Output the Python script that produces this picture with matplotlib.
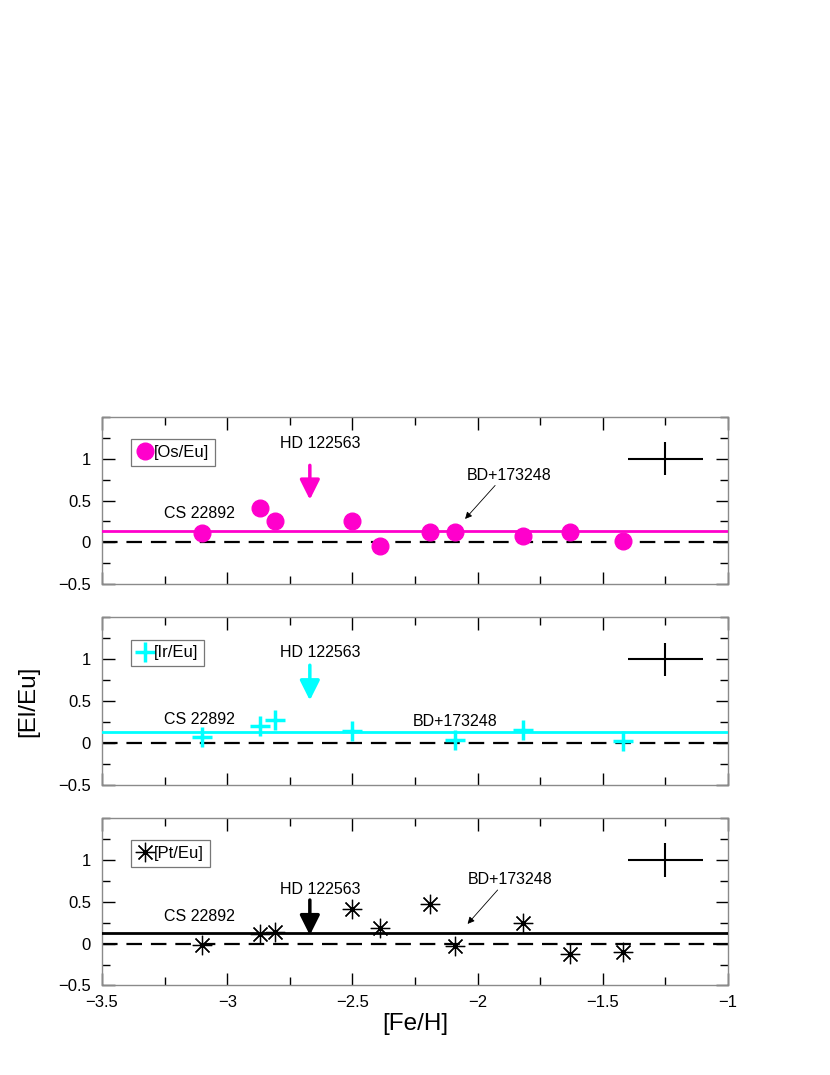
import matplotlib
matplotlib.use("Agg")
import matplotlib.pyplot as plt
from matplotlib.ticker import MultipleLocator

plt.rcParams["font.family"] = ["Liberation Sans", "DejaVu Sans"]

# [Fe/H] of the stars
feh_os = [-3.10, -2.87, -2.81, -2.50, -2.39, -2.19, -2.09, -1.82, -1.63, -1.42]
os_eu = [0.11, 0.41, 0.26, 0.26, -0.04, 0.12, 0.13, 0.08, 0.12, 0.02]

feh_ir = [-3.10, -2.87, -2.81, -2.50, -2.09, -1.82, -1.42]
ir_eu = [0.07, 0.21, 0.28, 0.15, 0.04, 0.16, 0.03]

feh_pt = [-3.10, -2.87, -2.81, -2.50, -2.39, -2.19, -2.09, -1.82, -1.63, -1.42]
pt_eu = [-0.02, 0.11, 0.14, 0.41, 0.19, 0.47, -0.03, 0.25, -0.12, -0.10]

mean_levels = [0.14, 0.13, 0.13]
labels = ["[Os/Eu]", "[Ir/Eu]", "[Pt/Eu]"]
colors = ["#ff00cc", "#00ffff", "black"]

# HD 122563 upper-limit arrows: (x, y_start, y_tip), text y
hd_arrows = [(-2.67, 0.92, 0.51), (-2.67, 0.93, 0.51), (-2.67, 0.52, 0.10)]
hd_text_y = [1.18, 1.08, 0.64]
cs_text_y = [0.34, 0.28, 0.32]
bd_text = [(-1.875, 0.80), (-2.09, 0.26), (-1.87, 0.76)]
bd_arrow = [((-1.93, 0.68), (-2.05, 0.28)), None, ((-1.92, 0.64), (-2.04, 0.235))]

# typical error bar
err_x, err_y, err_dx, err_dy = -1.25, 1.0, 0.15, 0.2

fig = plt.figure(figsize=(8.3, 10.75), dpi=100)
left, width, height = 0.1229, 0.7542, 0.1558
bottoms = [0.4565, 0.2698, 0.0833]

data = [(feh_os, os_eu), (feh_ir, ir_eu), (feh_pt, pt_eu)]
axes = []
for i, b in enumerate(bottoms):
    ax = fig.add_axes([left, b, width, height])
    axes.append(ax)
    x, y = data[i]
    c = colors[i]
    if i == 0:
        ax.plot(x, y, "o", color=c, markersize=12, label=labels[i], zorder=4)
    elif i == 1:
        ax.plot(x, y, "+", color=c, markersize=15, markeredgewidth=2.5,
                label=labels[i], zorder=4)
    else:
        ax.plot(x, y, marker=(8, 2, 0), linestyle="none", color=c,
                markersize=14, markeredgewidth=0.9, label=labels[i], zorder=4)
        ax.plot(x, y, "o", color=c, markersize=2.5, zorder=5)

    ax.axhline(mean_levels[i], color=c, lw=2, zorder=3)
    ax.axhline(0, color="black", lw=1.6, ls=(0, (7, 4)), zorder=2)

    ax.errorbar(err_x, err_y, xerr=err_dx, yerr=err_dy, fmt="none",
                ecolor="black", elinewidth=1.5, capsize=0)

    hx, hy0, hy1 = hd_arrows[i]
    ax.annotate("", xy=(hx, hy1), xytext=(hx, hy0),
                arrowprops=dict(arrowstyle="-|>,head_length=0.4,head_width=0.2",
                                color=c, lw=2.5, mutation_scale=30,
                                shrinkA=0, shrinkB=0))
    ax.text(-2.63, hd_text_y[i], "HD 122563", ha="center", va="center",
            fontsize=11.5)
    ax.text(-3.11, cs_text_y[i], "CS 22892", ha="center", va="center",
            fontsize=11.5)
    ax.text(bd_text[i][0], bd_text[i][1], "BD+173248", ha="center",
            va="center", fontsize=11.5)
    if bd_arrow[i] is not None:
        start, tip = bd_arrow[i]
        ax.annotate("", xy=tip, xytext=start,
                    arrowprops=dict(arrowstyle="-|>", color="black", lw=0.6,
                                    mutation_scale=10, shrinkA=0, shrinkB=0))

    leg = ax.legend(loc="upper left", bbox_to_anchor=(0.047, 0.868),
                    fontsize=12, handlelength=0.9, handletextpad=0.1,
                    borderpad=0.35, borderaxespad=0, fancybox=False,
                    framealpha=1, numpoints=1)
    leg.get_frame().set_edgecolor("#777777")
    leg.get_frame().set_linewidth(0.9)

    ax.set_xlim(-3.5, -1)
    ax.set_ylim(-0.5, 1.5)
    ax.xaxis.set_major_locator(MultipleLocator(0.5))
    ax.xaxis.set_minor_locator(MultipleLocator(0.25))
    ax.set_yticks([-0.5, 0, 0.5, 1])
    ax.set_yticklabels(["\u22120.5", "0", "0.5", "1"])
    ax.yaxis.set_minor_locator(MultipleLocator(0.25))
    ax.tick_params(which="both", direction="in", top=True, right=True,
                   labelsize=12, color="black")
    ax.tick_params(which="major", length=9, width=1)
    ax.tick_params(which="minor", length=6, width=1)
    ax.tick_params(axis="y", pad=8)
    ax.tick_params(axis="x", pad=7)
    for s in ax.spines.values():
        s.set_color("#8a8a8a")
        s.set_linewidth(1)
    if i < 2:
        ax.tick_params(labelbottom=False)

axes[2].set_xticks([-3.5, -3, -2.5, -2, -1.5, -1])
axes[2].set_xticklabels(["\u22123.5", "\u22123", "\u22122.5", "\u22122",
                         "\u22121.5", "\u22121"])
axes[2].set_xlabel("[Fe/H]", fontsize=17.5, labelpad=2)
fig.text(0.034, 0.348, "[El/Eu]", rotation=90, ha="center", va="center",
         fontsize=17.5)

fig.savefig("out.png", dpi=100)
plt.close(fig)
